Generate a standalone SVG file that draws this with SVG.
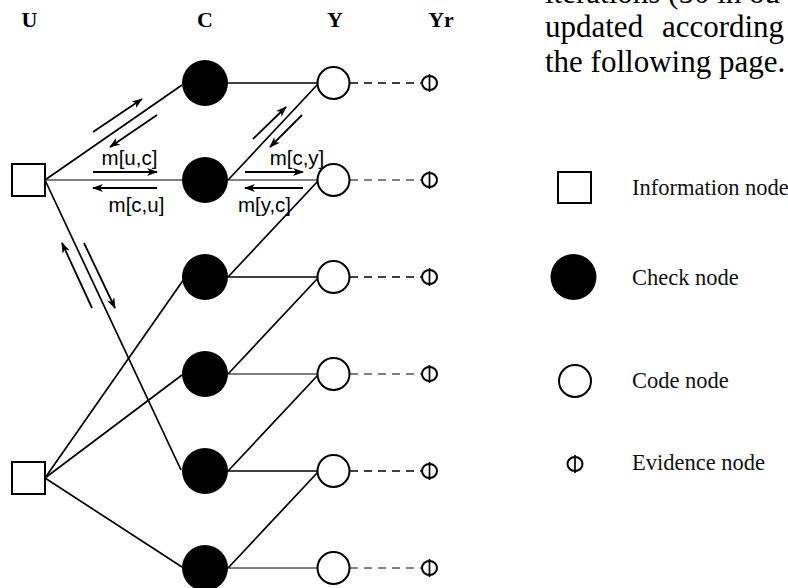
<svg xmlns="http://www.w3.org/2000/svg" width="788" height="588" viewBox="0 0 788 588">
<defs>
<marker id="ah" markerUnits="userSpaceOnUse" markerWidth="12" markerHeight="8" refX="10" refY="4" orient="auto">
<path d="M0,0 L11,4 L0,8 L3,4 z" fill="#000"/>
</marker>
</defs>
<style>
.hdr{font-family:"Liberation Serif",serif;font-weight:bold;font-size:22px;text-anchor:middle;fill:#000}
.body{font-family:"Liberation Serif",serif;font-size:31px;fill:#000}
.leg{font-family:"Liberation Serif",serif;font-size:22.5px;fill:#111}
.lbl{font-family:"Liberation Sans",Arial,sans-serif;font-size:20.5px;text-anchor:middle;fill:#000}
.e{stroke:#000;stroke-width:1.7;fill:none}
.t{stroke:#000;stroke-width:1;fill:none}
.d{stroke:#000;stroke-width:1.7;stroke-dasharray:8 6;fill:none}
.dt{stroke:#000;stroke-width:1;stroke-dasharray:8 6;fill:none}
.msg{stroke:#000;stroke-width:1.8;fill:none;marker-end:url(#ah)}
.info{fill:#fff;stroke:#000;stroke-width:2}
.check{fill:#000}
.code{fill:#fff;stroke:#000;stroke-width:2}
.ev{fill:#fff;stroke:#000;stroke-width:2}
</style>
<rect width="788" height="588" fill="#fff"/>

<!-- headers -->
<text class="hdr" x="29.5" y="27">U</text>
<text class="hdr" x="205" y="27">C</text>
<text class="hdr" x="335" y="27">Y</text>
<text class="hdr" x="441" y="27">Yr</text>

<!-- body text -->
<text class="body" x="545" y="3">iterations (50 in ou</text>
<text class="body" x="545" y="37" word-spacing="11">updated according</text>
<text class="body" x="545" y="72">the following page.</text>

<g id="connectors">
<!-- U1 edges -->
<line class="e" x1="45" y1="180" x2="182" y2="85"/>
<line class="t" x1="45" y1="180" x2="182" y2="180"/>
<line class="e" x1="45" y1="180" x2="181" y2="470"/>
<!-- U2 edges -->
<line class="e" x1="45" y1="478" x2="184" y2="279"/>
<line class="e" x1="45" y1="478" x2="182" y2="375"/>
<line class="e" x1="45" y1="478" x2="182" y2="567"/>
<!-- C to Y horizontal -->
<line class="e" x1="228" y1="83" x2="317" y2="83"/>
<line class="t" x1="228" y1="180" x2="317" y2="180"/>
<line class="e" x1="228" y1="277" x2="317" y2="277"/>
<line class="t" x1="228" y1="374" x2="317" y2="374"/>
<line class="e" x1="228" y1="471" x2="317" y2="471"/>
<line class="t" x1="228" y1="568" x2="317" y2="568"/>
<!-- C to Y diagonal -->
<line class="e" x1="228" y1="180" x2="318" y2="84"/>
<line class="e" x1="228" y1="277" x2="318" y2="181"/>
<line class="e" x1="228" y1="374" x2="318" y2="278"/>
<line class="e" x1="228" y1="471" x2="318" y2="375"/>
<line class="e" x1="228" y1="568" x2="318" y2="472"/>
<!-- Y to Yr dashed -->
<line class="d" x1="350" y1="83" x2="421" y2="83"/>
<line class="dt" x1="350" y1="180" x2="421" y2="180"/>
<line class="d" x1="350" y1="277" x2="421" y2="277"/>
<line class="dt" x1="350" y1="374" x2="421" y2="374"/>
<line class="d" x1="350" y1="471" x2="421" y2="471"/>
<line class="dt" x1="350" y1="568" x2="421" y2="568"/>
<!-- message arrows -->
<line class="msg" x1="93" y1="132" x2="142" y2="99"/>
<line class="msg" x1="157" y1="115" x2="110" y2="147"/>
<line class="msg" x1="93" y1="172" x2="157" y2="172"/>
<line class="msg" x1="157" y1="188" x2="93" y2="188"/>
<line class="msg" x1="245" y1="172" x2="303" y2="172"/>
<line class="msg" x1="303" y1="188" x2="245" y2="188"/>
<line class="msg" x1="253" y1="139" x2="286" y2="107"/>
<line class="msg" x1="302" y1="115" x2="270" y2="147"/>
<line class="msg" x1="92" y1="308" x2="62" y2="243"/>
<line class="msg" x1="84" y1="243" x2="115" y2="308"/>
</g>

<!-- message labels -->
<text class="lbl" x="129.5" y="165">m[u,c]</text>
<text class="lbl" x="136.5" y="212">m[c,u]</text>
<text class="lbl" x="297" y="165">m[c,y]</text>
<text class="lbl" x="264.5" y="212">m[y,c]</text>

<!-- information nodes -->
<g id="U1"><rect class="info" x="12" y="164" width="33" height="32"/></g>
<g id="U2"><rect class="info" x="12" y="462" width="33" height="32"/></g>

<!-- check nodes -->
<g id="C1"><circle class="check" cx="205" cy="83" r="23"/></g>
<g id="C2"><circle class="check" cx="205" cy="180" r="23"/></g>
<g id="C3"><circle class="check" cx="205" cy="277" r="23"/></g>
<g id="C4"><circle class="check" cx="205" cy="374" r="23"/></g>
<g id="C5"><circle class="check" cx="205" cy="471" r="23"/></g>
<g id="C6"><circle class="check" cx="205" cy="568" r="23"/></g>

<!-- code nodes -->
<g id="Y1"><circle class="code" cx="333.5" cy="83" r="16"/></g>
<g id="Y2"><circle class="code" cx="333.5" cy="180" r="16"/></g>
<g id="Y3"><circle class="code" cx="333.5" cy="277" r="16"/></g>
<g id="Y4"><circle class="code" cx="333.5" cy="374" r="16"/></g>
<g id="Y5"><circle class="code" cx="333.5" cy="471" r="16"/></g>
<g id="Y6"><circle class="code" cx="333.5" cy="568" r="16"/></g>

<!-- evidence nodes -->
<g id="Yr1"><ellipse class="ev" cx="429.5" cy="83" rx="7.5" ry="7"/><line class="e" x1="429.5" y1="74" x2="429.5" y2="92"/></g>
<g id="Yr2"><ellipse class="ev" cx="429.5" cy="180" rx="7.5" ry="7"/><line class="e" x1="429.5" y1="171" x2="429.5" y2="189"/></g>
<g id="Yr3"><ellipse class="ev" cx="429.5" cy="277" rx="7.5" ry="7"/><line class="e" x1="429.5" y1="268" x2="429.5" y2="286"/></g>
<g id="Yr4"><ellipse class="ev" cx="429.5" cy="374" rx="7.5" ry="7"/><line class="e" x1="429.5" y1="365" x2="429.5" y2="383"/></g>
<g id="Yr5"><ellipse class="ev" cx="429.5" cy="471" rx="7.5" ry="7"/><line class="e" x1="429.5" y1="462" x2="429.5" y2="480"/></g>
<g id="Yr6"><ellipse class="ev" cx="429.5" cy="568" rx="7.5" ry="7"/><line class="e" x1="429.5" y1="559" x2="429.5" y2="577"/></g>

<!-- legend -->
<g id="legend-info"><rect class="info" x="558" y="172" width="33" height="31"/><text class="leg" x="632" y="195">Information node</text></g>
<g id="legend-check"><circle class="check" cx="573.5" cy="277" r="23"/><text class="leg" x="632" y="285">Check node</text></g>
<g id="legend-code"><circle class="code" cx="575" cy="381" r="16"/><text class="leg" x="632" y="388">Code node</text></g>
<g id="legend-ev"><ellipse class="ev" cx="575" cy="464" rx="7.5" ry="7"/><line class="e" x1="575" y1="455" x2="575" y2="473"/><text class="leg" x="632" y="470">Evidence node</text></g>
</svg>
